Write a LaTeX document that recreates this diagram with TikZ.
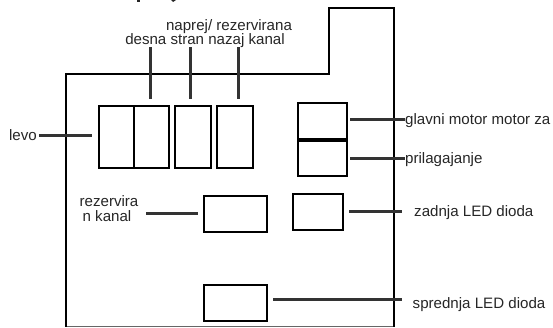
\documentclass[tikz,border=0pt]{standalone}
\usepackage{fontspec}
\setmainfont{Liberation Sans}
\tikzset{
 px/.style={x=1pt,y=-1pt},
 box/.style={draw=black,line width=2pt,minimum width=0pt,minimum height=0pt,inner sep=0pt,anchor=north west,fill=none},
 lead/.style={draw=black!80,line width=3pt},
 hull/.style={draw=black,line width=2pt},
 lab/.style={inner sep=0pt,font=\fontsize{15.1pt}{15pt}\selectfont,text=black!85},
}
\begin{document}
\begin{tikzpicture}[px]
\useasboundingbox (0,0) rectangle (553,327);
\fill[black!85] (137,0) rectangle (140,1.5);
\fill[black!85] (171,0) -- (176,0) -- (173,2) -- cycle;
\draw[black!60,line width=1pt] (66,326) -- (394,326);
\draw[hull] (66,326.5) -- (66,74) -- (329,74) -- (329,8) -- (394,8) -- (394,326.5);
% boxes
\node[box,minimum width=35pt,minimum height=62pt] (b1) at (98,105) {};
\node[box,minimum width=35pt,minimum height=62pt] (b2) at (133,105) {};
\node[box,minimum width=36pt,minimum height=62pt] (b3) at (174,105) {};
\node[box,minimum width=36pt,minimum height=62pt] (b4) at (216,105) {};
\node[box,minimum width=49pt,minimum height=36pt] (m1) at (297,102) {};
\node[box,minimum width=49pt,minimum height=37pt] (m2) at (297,138) {};
\node[box,minimum width=63pt,minimum height=36pt] (r) at (203,195) {};
\node[box,minimum width=50pt,minimum height=36pt] (z) at (292,193) {};
\node[box,minimum width=63pt,minimum height=36pt] (s) at (203,284) {};
\draw[black,line width=3pt] (m1.south west) -- (m1.south east);
% labels
\node[lab,anchor=base] (tn) at (229,30) {naprej/ rezervirana};
\node[lab,anchor=base] (td) at (205,44) {desna stran nazaj kanal};
\node[lab,anchor=base east] (levo) at (37,140.5) {levo};
\node[lab,anchor=base west] (gl) at (405,124) {glavni motor motor za};
\node[lab,anchor=base west] (pr) at (405,163) {prilagajanje};
\node[lab,anchor=base west] (za) at (414,216) {zadnja LED dioda};
\node[lab,anchor=base west] (sp) at (412.5,308) {sprednja LED dioda};
\node[lab,anchor=base] (rz) at (109,206.5) {rezervira};
\node[lab,anchor=base] (nk) at (107,221) {n kanal};
% free ends
\coordinate (c1) at (150.5,47); \coordinate (c1b) at (150.5,99);
\coordinate (c2) at (190.5,47); \coordinate (c2b) at (190.5,99);
\coordinate (c3) at (238.5,47); \coordinate (c3b) at (238.5,99);
\coordinate (l1) at (39,135.5); \coordinate (l2) at (92,135.5);
\coordinate (g1) at (350,119.5); \coordinate (g2) at (350,158.5);
\coordinate (z1) at (349,211.5); \coordinate (z2) at (402,211.5);
\coordinate (s1) at (273,299.5); \coordinate (s2) at (402,299.5);
\coordinate (r1) at (146,213.5); \coordinate (r2) at (198,213.5);
% leads
\draw[lead] (c1) -- (c1b);
\draw[lead] (c2) -- (c2b);
\draw[lead] (c3) -- (c3b);
\draw[lead] (l1) -- (l2);
\draw[lead] (g1) -- (gl.base west |- g1);
\draw[lead] (g2) -- (pr.base west |- g2);
\draw[lead] (z1) -- (z2);
\draw[lead] (r1) -- (r2);
\draw[lead] (s1) -- (s2);
\end{tikzpicture}
\end{document}
